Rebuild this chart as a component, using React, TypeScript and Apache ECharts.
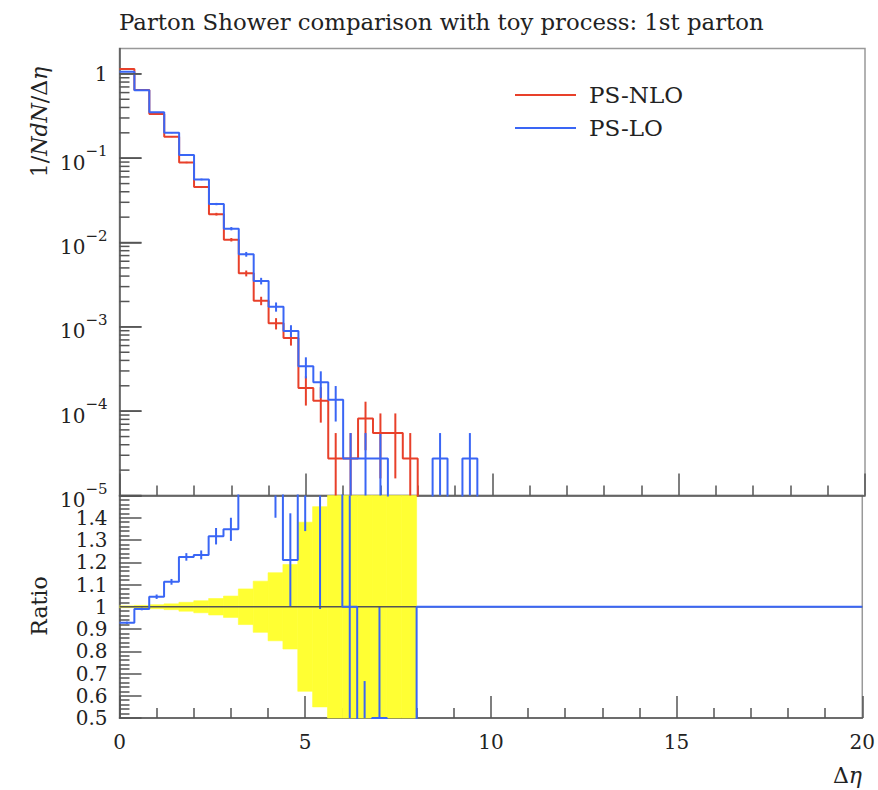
import React, { useEffect, useRef } from 'react';
import * as echarts from 'echarts';

// ---- data ----
const binWidth = 0.4;
const xRange = [0, 20];
const xTickLabels = ['0', '5', '10', '15', '20'];
const seriesNames = ['PS-NLO', 'PS-LO'];

// 1/N dN/dΔη, PS-NLO (reference), bins of 0.4 starting at 0
const nloY = [1.14, 0.645, 0.335, 0.18, 0.089, 0.0455, 0.0217, 0.0108, 0.00431, 0.00204,
  0.0011, 0.00074, 0.000188, 0.000133, 2.75e-5, 2.75e-5, 8.2e-5, 5.5e-5, 5.5e-5, 2.75e-5];
const nloRelErr = [0.004, 0.006, 0.009, 0.013, 0.02, 0.027, 0.037, 0.048, 0.08, 0.115,
  0.153, 0.19, 0.38, 0.45, 1, 1, 0.58, 0.71, 0.71, 1];

// PS-LO
const loY = [1.06, 0.64, 0.35, 0.2, 0.109, 0.056, 0.0286, 0.0146, 0.00726, 0.0035,
  0.00173, 0.00089, 0.00034, 0.00022, 0.000137, 2.75e-5, 2.75e-5, 2.75e-5, 0, 0,
  0, 2.75e-5, 0, 2.75e-5];
const loRelErr = [0.005, 0.006, 0.009, 0.012, 0.017, 0.023, 0.032, 0.045, 0.065, 0.09,
  0.125, 0.175, 0.28, 0.35, 0.45, 1, 1, 1, 0, 0,
  0, 1, 0, 1];

// ratio PS-LO / PS-NLO, 50 bins
const loRatio = [0.928, 0.99, 1.045, 1.112, 1.224, 1.233, 1.317, 1.348, 1.68, 1.72,
  1.57, 1.21, 1.8, 1.62, 5.0, 1, 0.333, 0.5, 0, 0,
  1, 1, 1, 1, 1, 1, 1, 1, 1, 1,
  1, 1, 1, 1, 1, 1, 1, 1, 1, 1,
  1, 1, 1, 1, 1, 1, 1, 1, 1, 1];
const loRatioErr = [0.005, 0.006, 0.01, 0.013, 0.017, 0.02, 0.037, 0.052, 0.11, 0.16,
  0.17, 0.21, 0.46, 0.63, 2.2, 1, 0.333, 0.5, 0, 0];

const logMajorTicks = [1e-5, 1e-4, 1e-3, 1e-2, 1e-1, 1];
const logMinorTicks = [
  2e-5, 3e-5, 4e-5, 5e-5, 6e-5, 7e-5, 8e-5, 9e-5,
  2e-4, 3e-4, 4e-4, 5e-4, 6e-4, 7e-4, 8e-4, 9e-4,
  2e-3, 3e-3, 4e-3, 5e-3, 6e-3, 7e-3, 8e-3, 9e-3,
  2e-2, 3e-2, 4e-2, 5e-2, 6e-2, 7e-2, 8e-2, 9e-2,
  2e-1, 3e-1, 4e-1, 5e-1, 6e-1, 7e-1, 8e-1, 9e-1,
];

// ---- styling ----
const RED = '#e8402a';
const BLUE = '#3a66f5';
const YELLOW = '#ffff33';
const FONT = "'DejaVu Serif', serif";
const TEXT = '#222';
const TICK = '#555';
const FLOOR = 1e-9;

function stepPoints(vals: number[], floorVal: number, endX?: number) {
  const pts: number[][] = vals.map((v, i) => [i * binWidth, v > 0 ? v : floorVal]);
  const last = vals.length * binWidth;
  if (endX === undefined) pts.push([last, floorVal]);
  else pts.push([endX, vals[vals.length - 1] > 0 ? vals[vals.length - 1] : floorVal]);
  return pts;
}

function vLine(params: any, api: any, x: number, a: number, b: number, color: string) {
  const cs = params.coordSys;
  const p0 = api.coord([x, a]);
  const p1 = api.coord([x, b]);
  let ya = Math.min(p0[1], p1[1]);
  let yb = Math.max(p0[1], p1[1]);
  const top = cs.y;
  const bot = cs.y + cs.height;
  if (yb < top || ya > bot || !isFinite(p0[0])) return { type: 'group', children: [] };
  ya = Math.max(ya, top);
  yb = Math.min(yb, bot);
  return {
    type: 'line',
    shape: { x1: p0[0], y1: ya, x2: p0[0], y2: yb },
    style: { stroke: color, lineWidth: 2 },
  };
}

function errData(vals: number[], rel: number[]) {
  const out: number[][] = [];
  vals.forEach((v, i) => {
    if (v > 0 && rel[i] > 0) {
      const lo = v * (1 - rel[i]);
      out.push([(i + 0.5) * binWidth, lo > 0 ? lo : FLOOR, v * (1 + rel[i])]);
    }
  });
  return out;
}

function ratioErrData(r: number[], e: number[]) {
  const out: number[][] = [];
  e.forEach((err, i) => {
    if (err > 0) out.push([(i + 0.5) * binWidth, r[i] - err, r[i] + err]);
  });
  return out;
}

const lineStyle = () => ({ color: TICK, width: 1.5 });

export default function App() {
  const ref = useRef<HTMLDivElement>(null);
  useEffect(() => {
    document.body.style.margin = '0';
    if (!ref.current) return;
    const chart = echarts.init(ref.current, undefined, { renderer: 'svg' });

    const gridTop = { left: 119.5, top: 48.5, width: 745.5, height: 447 };
    const gridBot = { left: 119.5, top: 495.5, width: 745.5, height: 222.5 };

    const bandData = nloRelErr.map((r, i) => [i * binWidth, (i + 1) * binWidth, r]);

    const baseGraphic: any[] = [
      { type: 'line', shape: { x1: 515, y1: 95, x2: 576, y2: 95 }, style: { stroke: RED, lineWidth: 2 } },
      {
        type: 'text', x: 589, y: 95,
        style: { text: seriesNames[0], font: `23px ${FONT}`, fill: TEXT, verticalAlign: 'middle', align: 'left' },
      },
      { type: 'line', shape: { x1: 515, y1: 128, x2: 576, y2: 128 }, style: { stroke: BLUE, lineWidth: 2 } },
      {
        type: 'text', x: 589, y: 128,
        style: { text: seriesNames[1], font: `23px ${FONT}`, fill: TEXT, verticalAlign: 'middle', align: 'left' },
      },
      {
        type: 'text', x: 39, y: 122, rotation: Math.PI / 2,
        style: {
          text: '{u|1/}{i|NdN}{u|/\u0394}{i|\u03b7}',
          align: 'center', verticalAlign: 'middle',
          rich: {
            u: { fontFamily: FONT, fontSize: 22, fill: TEXT },
            i: { fontFamily: FONT, fontSize: 22, fontStyle: 'italic', fill: TEXT },
          },
        },
      },
      {
        type: 'text', x: 39, y: 606, rotation: Math.PI / 2,
        style: { text: 'Ratio', font: `22px ${FONT}`, fill: TEXT, align: 'center', verticalAlign: 'middle' },
      },
      {
        type: 'text', x: 862, y: 775,
        style: {
          text: '{u|\u0394}{i|\u03b7}',
          align: 'right', verticalAlign: 'middle',
          rich: {
            u: { fontFamily: FONT, fontSize: 22, fill: TEXT },
            i: { fontFamily: FONT, fontSize: 22, fontStyle: 'italic', fill: TEXT },
          },
        },
      },
    ];

    const option: any = {
      animation: false,
      title: {
        text: 'Parton Shower comparison with toy process: 1st parton',
        left: 114,
        top: 5,
        textStyle: { fontFamily: FONT, fontSize: 22.8, fontWeight: 'normal', color: TEXT },
      },
      grid: [
        { ...gridTop, show: true, borderColor: '#999', borderWidth: 1.5, backgroundColor: 'transparent' },
        { ...gridBot, show: true, borderColor: '#999', borderWidth: 1.5, backgroundColor: 'transparent' },
      ],
      xAxis: [0, 1].map((g) => ({
        gridIndex: g,
        type: 'value',
        min: xRange[0],
        max: xRange[1],
        interval: 5,
        axisLine: { show: true, onZero: false, lineStyle: lineStyle() },
        axisTick: { show: true, inside: true, length: 22, lineStyle: lineStyle() },
        minorTick: { show: true, splitNumber: 5, length: 10, lineStyle: lineStyle() },
        splitLine: { show: false },
        axisLabel: g === 0
          ? { show: false }
          : {
              show: true,
              margin: 14,
              fontFamily: FONT,
              fontSize: 20,
              color: TEXT,
              formatter: (v: number) => xTickLabels[Math.round(v / 5)] ?? String(v),
            },
      })),
      yAxis: [
        {
          gridIndex: 0,
          type: 'log',
          logBase: 10,
          position: 'left',
          min: 1e-5,
          max: 2,
          axisLine: { show: true, lineStyle: lineStyle() },
          axisTick: { show: true, inside: true, length: 22, lineStyle: lineStyle(), customValues: logMajorTicks },
          splitLine: { show: false },
          axisLabel: {
            show: true,
            customValues: logMajorTicks,
            margin: 12,
            fontFamily: FONT,
            fontSize: 20,
            color: TEXT,
            formatter: (v: number) => {
              const e = Math.round(Math.log10(v));
              if (e === 0) return '{one|1}';
              return '{b|10}{s|\u2212' + -e + '}';
            },
            rich: {
              one: { fontFamily: FONT, fontSize: 20, color: TEXT },
              b: { fontFamily: FONT, fontSize: 20, color: TEXT, padding: [9, 0, 0, 0] },
              s: { fontFamily: FONT, fontSize: 15, color: TEXT, verticalAlign: 'top' },
            },
          },
        },
        {
          gridIndex: 1,
          type: 'value',
          position: 'left',
          min: 0.5,
          max: 1.5,
          interval: 0.1,
          axisLine: { show: true, onZero: false, lineStyle: lineStyle() },
          axisTick: { show: true, inside: true, length: 22, lineStyle: lineStyle() },
          minorTick: { show: true, splitNumber: 5, length: 10, lineStyle: lineStyle() },
          splitLine: { show: false },
          axisLabel: {
            show: true,
            showMaxLabel: false,
            margin: 12,
            fontFamily: FONT,
            fontSize: 20,
            color: TEXT,
            formatter: (v: number) => String(+v.toFixed(2)),
          },
        },
      ],
      series: [
        {
          name: seriesNames[0],
          type: 'line',
          xAxisIndex: 0,
          yAxisIndex: 0,
          step: 'end',
          showSymbol: false,
          lineStyle: { color: RED, width: 2 },
          data: stepPoints(nloY, FLOOR),
        },
        {
          type: 'custom',
          xAxisIndex: 0,
          yAxisIndex: 0,
          data: errData(nloY, nloRelErr),
          renderItem: (params: any, api: any) => vLine(params, api, api.value(0), api.value(1), api.value(2), RED),
        },
        {
          name: seriesNames[1],
          type: 'line',
          xAxisIndex: 0,
          yAxisIndex: 0,
          step: 'end',
          showSymbol: false,
          lineStyle: { color: BLUE, width: 2 },
          data: stepPoints(loY, FLOOR),
        },
        {
          type: 'custom',
          xAxisIndex: 0,
          yAxisIndex: 0,
          data: errData(loY, loRelErr),
          renderItem: (params: any, api: any) => vLine(params, api, api.value(0), api.value(1), api.value(2), BLUE),
        },
        // ratio panel
        {
          type: 'custom',
          xAxisIndex: 1,
          yAxisIndex: 1,
          data: bandData,
          renderItem: (params: any, api: any) => {
            const cs = params.coordSys;
            const r = api.value(2);
            const a = api.coord([api.value(0), 1 + r]);
            const b = api.coord([api.value(1), 1 - r]);
            const y0 = Math.max(a[1], cs.y);
            const y1 = Math.min(b[1], cs.y + cs.height);
            return {
              type: 'rect',
              shape: { x: a[0], y: y0, width: b[0] - a[0], height: y1 - y0 },
              style: { fill: YELLOW, stroke: YELLOW, lineWidth: 0.6 },
            };
          },
          z: 1,
        },
        {
          type: 'line',
          xAxisIndex: 1,
          yAxisIndex: 1,
          showSymbol: false,
          lineStyle: { color: '#555', width: 1.5 },
          data: [[xRange[0], 1], [xRange[1], 1]],
        },
        {
          type: 'line',
          xAxisIndex: 1,
          yAxisIndex: 1,
          step: 'end',
          showSymbol: false,
          lineStyle: { color: BLUE, width: 2 },
          data: stepPoints(loRatio, 0, xRange[1]),
        },
        {
          type: 'custom',
          xAxisIndex: 1,
          yAxisIndex: 1,
          data: ratioErrData(loRatio, loRatioErr),
          renderItem: (params: any, api: any) => vLine(params, api, api.value(0), api.value(1), api.value(2), BLUE),
        },
      ],
      graphic: baseGraphic,
    };

    chart.setOption(option);

    // log-axis ticks of the upper panel, placed through the axis scale
    const tickGraphic: any[] = [];
    const addTick = (v: number, len: number) => {
      const p = chart.convertToPixel({ xAxisIndex: 0, yAxisIndex: 0 }, [xRange[0], v]) as any;
      if (!p || !isFinite(p[1])) return;
      tickGraphic.push({
        type: 'line',
        z: 100,
        shape: { x1: p[0], y1: p[1], x2: p[0] + len, y2: p[1] },
        style: { stroke: TICK, lineWidth: 1.5 },
      });
    };
    logMajorTicks.forEach((v) => addTick(v, 22));
    logMinorTicks.forEach((v) => addTick(v, 10));
    chart.setOption({ graphic: [...baseGraphic, ...tickGraphic] });

    return () => chart.dispose();
  }, []);

  return <div ref={ref} style={{ width: 878, height: 790 }} />;
}
